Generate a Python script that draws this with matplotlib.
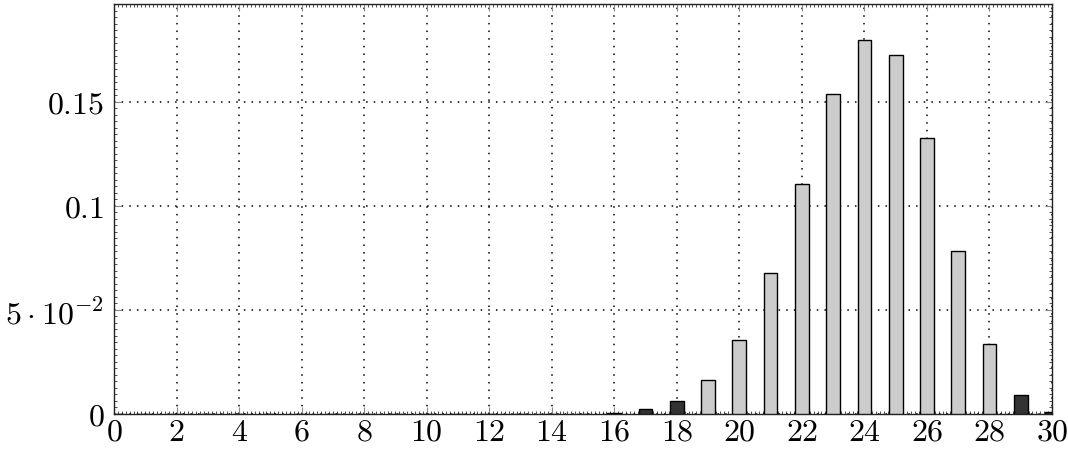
import matplotlib
matplotlib.use("Agg")
import matplotlib.pyplot as plt
from matplotlib.ticker import MultipleLocator, AutoMinorLocator, FixedLocator, FuncFormatter

plt.rcParams['mathtext.fontset'] = 'cm'
plt.rcParams['font.family'] = 'serif'
plt.rcParams['font.serif'] = ['cmr10']
plt.rcParams['axes.formatter.use_mathtext'] = True

# data
k_dark = [0, 1, 2, 3, 4, 5, 6, 7, 8, 9, 10, 11, 12, 13, 14, 15, 16, 17, 18, 29, 30]
p_dark = [0, 0, 0, 0, 0, 0, 0, 0, 0, 0, 0, 0, 0, 0.00001, 0.00003, 0.0001, 0.0006, 0.0022, 0.0064, 0.0093, 0.0012]
k_light = [19, 20, 21, 22, 23, 24, 25, 26, 27, 28]
p_light = [0.0161, 0.0355, 0.0676, 0.1106, 0.1538, 0.1795, 0.1723, 0.1325, 0.0785, 0.0337]
x_ticks = list(range(0, 31, 2))
y_ticks = [0, 0.05, 0.1, 0.15]
y_labels = ['$0$', r'$5\cdot10^{-2}$', '$0.1$', '$0.15$']

fig = plt.figure(figsize=(10.68, 4.52), dpi=100)
ax = fig.add_axes([114/1068, 37/452, (1052-114)/1068, (415-5)/452])

w = 0.44
ax.bar(k_light, p_light, width=w, color='#cccccc', edgecolor='black', linewidth=1.0, zorder=3)
ax.bar(k_dark, p_dark, width=w, color='#333333', edgecolor='black', linewidth=1.0, zorder=3)

ax.set_xlim(0, 30)
ax.set_ylim(0, 0.197)
ax.xaxis.set_major_locator(FixedLocator(x_ticks))
ax.xaxis.set_major_formatter(FuncFormatter(lambda v, p: f'${int(round(v))}$'))
ax.yaxis.set_major_locator(FixedLocator(y_ticks))
ax.set_yticklabels(y_labels)
ax.xaxis.set_minor_locator(AutoMinorLocator(16))
ax.yaxis.set_minor_locator(MultipleLocator(0.05/16))

ax.grid(True, which='major', linestyle=(0, (1, 4)), color='black', linewidth=1.1, zorder=0)
ax.tick_params(which='major', direction='in', length=5, width=0.8, color='#888888',
               top=True, right=True, labelsize=23, pad=7)
ax.tick_params(which='minor', direction='in', length=2, width=0.6, color='#333333',
               top=True, right=True)
ax.tick_params(axis='x', which='major', pad=3)
for s in ax.spines.values():
    s.set_linewidth(1.0)
    s.set_color('#222222')

fig.savefig('out.png', dpi=100)
